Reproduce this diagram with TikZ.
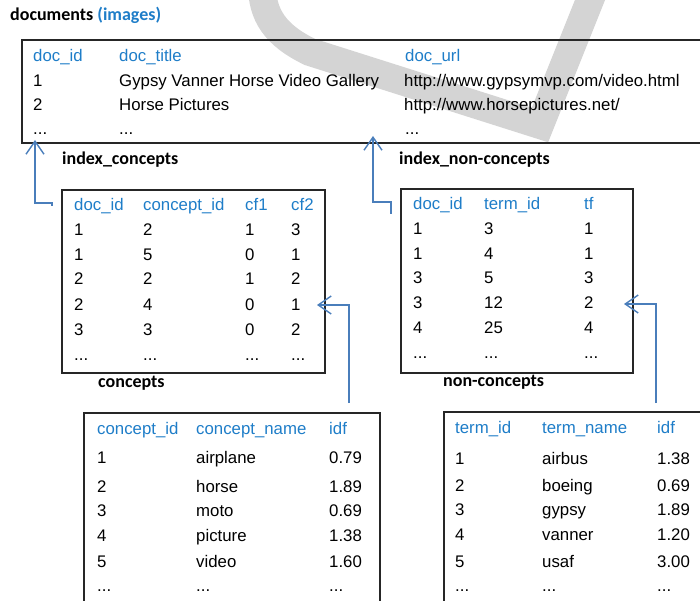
\documentclass[tikz,border=0pt]{standalone}
\usepackage{fontspec}
\setmainfont{Liberation Sans}
\newfontfamily\labfont{Carlito}
\usetikzlibrary{arrows.meta}
\definecolor{hdrblue}{RGB}{30,125,200}
\definecolor{arrblue}{RGB}{74,126,187}
\definecolor{wmgray}{RGB}{212,212,212}
\newcommand{\mydots}{...}
\begin{document}
\begin{tikzpicture}[x=1pt,y=-1pt,
  box/.style={draw=black!85, line width=1.6pt, inner sep=0pt, outer sep=0pt, anchor=north west},
  cell/.style={anchor=base west, inner sep=0pt, font=\fontsize{16.8}{19}\selectfont},
  hdr/.style={cell, text=hdrblue},
  lab/.style={anchor=base west, inner sep=0pt, font=\labfont\bfseries\fontsize{18}{20}\selectfont},
  arr/.style={draw=arrblue, line width=1.4pt, -{Straight Barb[length=13pt,width=18pt]}}]
\useasboundingbox (0,0) rectangle (700,601);
\clip (0,0) rectangle (700,601);
% watermark
\draw[wmgray, line width=28pt, line join=miter] (262,-15) .. controls (262,15) and (275,35) .. (310,52) -- (540,125) -- (598,-20);
% boxes
\node[box, minimum width=683pt, minimum height=103pt] (docs) at (22,40) {};
\node[box, minimum width=263pt, minimum height=183pt] (conc) at (62,190) {};
\node[box, minimum width=232pt, minimum height=184pt] (nonconc) at (401,189) {};
\node[box, minimum width=296pt, minimum height=200pt] (ctab) at (84,413) {};
\node[box, minimum width=265pt, minimum height=200pt] (ttab) at (444,412) {};
% labels
\node[lab] (ldocs) at (10,21) {documents {\color{hdrblue}(images)}};
\node[lab] (lic) at (62,165) {index\_concepts};
\node[lab] (linc) at (399,165) {index\_non-concepts};
\node[lab] (lconc) at (98,387) {concepts};
\node[lab] (lnconc) at (443,386) {non-concepts};
% documents table
\node[hdr] (d-h1) at (33,62) {doc\_id};
\node[hdr] (d-h2) at (119,62) {doc\_title};
\node[hdr] (d-h3) at (405,62) {doc\_url};
\node[cell] (d-11) at (33,87) {1};
\node[cell] (d-12) at (119,87) {Gypsy Vanner Horse Video Gallery};
\node[cell] (d-13) at (404,87) {http://www.gypsymvp.com/video.html};
\node[cell] (d-21) at (33,111) {2};
\node[cell] (d-22) at (119,111) {Horse Pictures};
\node[cell] (d-23) at (404,111) {http://www.horsepictures.net/};
\node[cell] (d-31) at (33,135) {\mydots};
\node[cell] (d-32) at (119,135) {\mydots};
\node[cell] (d-33) at (405,135) {\mydots};
% concepts (index) table
\node[hdr] (c-h1) at (74,211) {doc\_id};
\node[hdr] (c-h2) at (143,211) {concept\_id};
\node[hdr] (c-h3) at (245,211) {cf1};
\node[hdr] (c-h4) at (291,211) {cf2};
\foreach \y/\a/\b/\c/\d in {236/1/2/1/3, 260/1/5/0/1, 284/2/2/1/2, 310/2/4/0/1, 335/3/3/0/2, 360/\mydots/\mydots/\mydots/\mydots}{
  \node[cell] (c-\y-1) at (74,\y) {\a};
  \node[cell] (c-\y-2) at (143,\y) {\b};
  \node[cell] (c-\y-3) at (245,\y) {\c};
  \node[cell] (c-\y-4) at (291,\y) {\d};
}
% non-concepts (index) table
\node[hdr] (n-h1) at (413,210) {doc\_id};
\node[hdr] (n-h2) at (484,210) {term\_id};
\node[hdr] (n-h3) at (584,210) {tf};
\foreach \y/\a/\b/\c in {235/1/3/1, 259/1/4/1, 283/3/5/3, 308/3/12/2, 333/4/25/4, 358/\mydots/\mydots/\mydots}{
  \node[cell] (n-\y-1) at (413,\y) {\a};
  \node[cell] (n-\y-2) at (484,\y) {\b};
  \node[cell] (n-\y-3) at (584,\y) {\c};
}
% concept dictionary
\node[hdr] (k-h1) at (97,434) {concept\_id};
\node[hdr] (k-h2) at (196,434) {concept\_name};
\node[hdr] (k-h3) at (329,434) {idf};
\foreach \y/\a/\b/\c in {463/1/airplane/0.79, 492/2/horse/1.89, 516/3/moto/0.69, 541/4/picture/1.38, 567/5/video/1.60, 591/\mydots/\mydots/\mydots}{
  \node[cell] (k-\y-1) at (97,\y) {\a};
  \node[cell] (k-\y-2) at (196,\y) {\b};
  \node[cell] (k-\y-3) at (329,\y) {\c};
}
% term dictionary
\node[hdr] (t-h1) at (455,433) {term\_id};
\node[hdr] (t-h2) at (542,433) {term\_name};
\node[hdr] (t-h3) at (657,433) {idf};
\foreach \y/\a/\b/\c in {464/1/airbus/1.38, 491/2/boeing/0.69, 515/3/gypsy/1.89, 540/4/vanner/1.20, 567/5/usaf/3.00, 591/\mydots/\mydots/\mydots}{
  \node[cell] (t-\y-1) at (455,\y) {\a};
  \node[cell] (t-\y-2) at (542,\y) {\b};
  \node[cell] (t-\y-3) at (657,\y) {\c};
}
% connectors
\coordinate (a1s) at (52,206);
\coordinate (a1t) at (35,140);
\draw[arr] (a1s) -- (52,203) -- (35,203) -- (a1t);
\coordinate (a2s) at (391,214);
\coordinate (a2t) at (373,136);
\draw[arr] (a2s) -- (391,202) -- (373,202) -- (a2t);
\coordinate (a3s) at (349,403);
\coordinate (a3t) at (317,305);
\draw[arr] (a3s) -- (349,305) -- (a3t);
\coordinate (a4s) at (656,403);
\coordinate (a4t) at (624,304);
\draw[arr] (a4s) -- (656,304) -- (a4t);
\end{tikzpicture}
\end{document}
